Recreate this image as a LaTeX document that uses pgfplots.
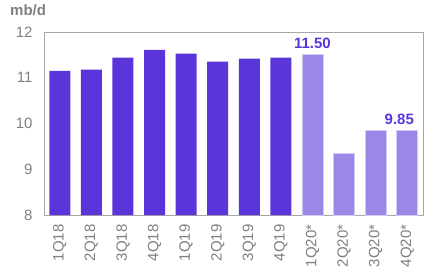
\documentclass[border=0pt]{standalone}
\usepackage{fontspec}
\setmainfont{Liberation Sans}
\usepackage{pgfplots}
\pgfplotsset{compat=1.18}
\definecolor{dark}{HTML}{5A35D9}
\definecolor{light}{HTML}{9C87E6}
\definecolor{lightedge}{HTML}{D2C8F5}
\definecolor{tickgray}{HTML}{808080}
\definecolor{framegray}{HTML}{A6A6A6}
\begin{document}
\begin{tikzpicture}[x=1pt,y=1pt]
\begin{axis}[
  at={(44pt,64pt)}, anchor=south west,
  scale only axis, width=379pt, height=183pt,
  xmin=-0.5, xmax=11.5, ymin=8, ymax=12,
  ytick={8,9,10,11,12},
  xtick={0,...,11},
  xticklabels={1Q18,2Q18,3Q18,4Q18,1Q19,2Q19,3Q19,4Q19,1Q20*,2Q20*,3Q20*,4Q20*},
  x tick label style={rotate=90, anchor=east, yshift=0pt, xshift=-6pt},
  y tick label style={xshift=-8pt},
  tick label style={font=\fontsize{15}{15}\selectfont, text=tickgray},
  /pgf/number format/assume math mode=true,
  major tick length=0pt,
  axis line style={framegray, line width=0.8pt},
  axis on top=false,
  clip=false,
]
\addplot[ybar, bar width=21pt, bar shift=0pt, fill=dark, draw=none]
  coordinates {(0,11.15) (1,11.18) (2,11.44) (3,11.61) (4,11.53) (5,11.35) (6,11.42) (7,11.44)};
\addplot[ybar, bar width=21pt, bar shift=0pt, fill=light, draw=lightedge, line width=0.8pt]
  coordinates {(8,11.50) (9,9.35) (10,9.85) (11,9.85)};
\node[anchor=south, text=dark, font=\fontsize{15}{15}\selectfont\bfseries, inner sep=1pt] at (axis cs:8,11.60) {11.50};
\node[anchor=south, text=dark, font=\fontsize{15}{15}\selectfont\bfseries, inner sep=1pt] at (axis cs:10.75,9.95) {9.85};
\end{axis}
\node[anchor=north west, text=tickgray, font=\fontsize{15}{15}\selectfont\bfseries, inner sep=0pt] at (10pt,275pt) {mb/d};
\pgfresetboundingbox
\path[use as bounding box] (0,0) rectangle (438pt,279pt);
\end{tikzpicture}
\end{document}
